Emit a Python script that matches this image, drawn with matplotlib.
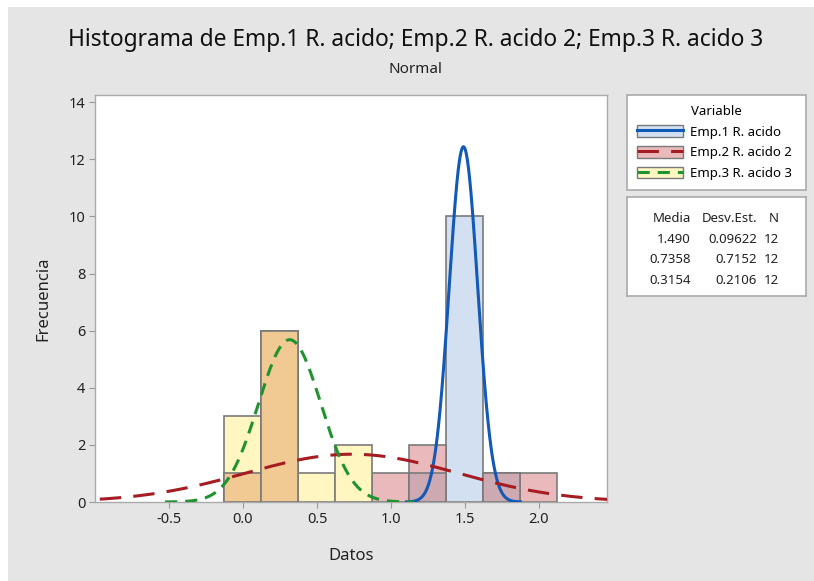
import numpy as np
import matplotlib
matplotlib.use('Agg')
import matplotlib.pyplot as plt
from matplotlib.patches import Patch, Rectangle
from matplotlib.lines import Line2D

plt.rcParams['font.family'] = ['Noto Sans', 'DejaVu Sans']

# histogram bins (centres, width 0.25) and counts per variable
BIN_CENTERS = [0.0, 0.25, 0.5, 0.75, 1.0, 1.25, 1.5, 1.75, 2.0]
BIN_WIDTH = 0.25
EMP1 = [0, 0, 0, 0, 0, 1, 10, 1, 0]
EMP2 = [1, 6, 0, 0, 1, 2, 0, 1, 1]
EMP3 = [3, 6, 1, 2, 0, 0, 0, 0, 0]

NAMES = ['Emp.1 R. acido', 'Emp.2 R. acido 2', 'Emp.3 R. acido 3']
MEANS = [1.490, 0.7358, 0.3154]
STDS = [0.09622, 0.7152, 0.2106]
NS = [12, 12, 12]
MEAN_TXT = ['1.490', '0.7358', '0.3154']
STD_TXT = ['0.09622', '0.7152', '0.2106']

FILL = ['#d2e0f1', '#e9b9bc', '#fff6c1']
LINE = ['#1259b8', '#a51d22', '#1f9330']
DASH = [None, (7, 4), (4, 2.6)]
OVERLAP_12 = '#cda9b1'
OVERLAP_23 = '#f1c992'
EDGE = '#7a7a7a'
BG = '#e5e5e5'

W, H = 814, 581
fig = plt.figure(figsize=(W / 100, H / 100), dpi=100, facecolor='white')
fig.patches.append(Rectangle((8 / W, 0), 1, 1 - 7 / H, transform=fig.transFigure,
                             facecolor=BG, edgecolor='none', zorder=-10))

ax = fig.add_axes([95 / W, 1 - 502 / H, (607 - 95) / W, (502 - 95) / H])
ax.set_facecolor('white')

centers = np.array(BIN_CENTERS)
series = [np.array(EMP1), np.array(EMP2), np.array(EMP3)]


def draw_bars(heights, color, z):
    m = heights > 0
    ax.bar(centers[m], heights[m], width=BIN_WIDTH, color=color,
           edgecolor=EDGE, linewidth=1.2, zorder=z)


for k, counts in enumerate(series):
    draw_bars(counts, FILL[k], 2)
draw_bars(np.minimum(series[0], series[1]), OVERLAP_12, 3)
draw_bars(np.minimum(series[1], series[2]), OVERLAP_23, 3)

# fitted normal curves scaled to counts, drawn over mean +/- 4 sd
for k in range(3):
    mu, sd, n = MEANS[k], STDS[k], NS[k]
    xs = np.linspace(mu - 4 * sd, mu + 4 * sd, 400)
    ys = n * BIN_WIDTH * np.exp(-0.5 * ((xs - mu) / sd) ** 2) / (sd * np.sqrt(2 * np.pi))
    ln, = ax.plot(xs, ys, color=LINE[k], linewidth=2.2, zorder=5)
    if DASH[k]:
        ln.set_dashes(DASH[k])

ax.set_xlim(-1.0, 2.46)
ax.set_ylim(0, 14.25)
ax.set_xticks([-0.5, 0.0, 0.5, 1.0, 1.5, 2.0])
ax.set_xticklabels(['-0.5', '0.0', '0.5', '1.0', '1.5', '2.0'])
ax.set_yticks(range(0, 15, 2))
ax.tick_params(direction='out', length=4, color='#999999', labelsize=10.5,
               labelcolor='#222222', pad=3)
for s in ax.spines.values():
    s.set_color('#aaaaaa')
    s.set_linewidth(1.0)
ax.set_xlabel('Datos', fontsize=12, color='#222222', labelpad=15)
ax.set_ylabel('Frecuencia', fontsize=12, color='#222222', labelpad=12)

fig.text(416 / W, 1 - 40 / H, 'Histograma de Emp.1 R. acido; Emp.2 R. acido 2; Emp.3 R. acido 3',
         ha='center', va='center', fontsize=16.4, color='#111111')
fig.text(416 / W, 1 - 70 / H, 'Normal', ha='center', va='center', fontsize=11, color='#222222')

# legend
handles = []
for k in range(3):
    ln = Line2D([], [], color=LINE[k], linewidth=2.2)
    if DASH[k]:
        ln.set_dashes(DASH[k])
    handles.append((Patch(facecolor=FILL[k], edgecolor=EDGE), ln))
leg = fig.legend(handles, NAMES, title='Variable', loc='upper left',
                 bbox_to_anchor=(627 / W, 1 - 95 / H, 179 / W, 0.0), mode='expand',
                 fontsize=9.5, title_fontsize=9.5, frameon=True, fancybox=False,
                 framealpha=1, handlelength=3.5, handleheight=1.0, labelspacing=0.55,
                 handletextpad=0.5, borderpad=0.75, borderaxespad=0)
leg.get_frame().set_edgecolor('#aaaaaa')
leg.get_frame().set_linewidth(1.2)

# statistics table
sax = fig.add_axes([627 / W, 1 - 296 / H, 179 / W, (296 - 197) / H])
sax.set_xticks([])
sax.set_yticks([])
for s in sax.spines.values():
    s.set_color('#aaaaaa')
    s.set_linewidth(1.2)
sax.set_xlim(627, 806)
sax.set_ylim(296, 197)
tk = dict(fontsize=9.5, color='#222222', va='center', ha='right')
sax.text(691, 218, 'Media', **tk)
sax.text(757, 218, 'Desv.Est.', **tk)
sax.text(779, 218, 'N', **tk)
for i in range(3):
    y = 239 + i * 20.5
    sax.text(691, y, MEAN_TXT[i], **tk)
    sax.text(757, y, STD_TXT[i], **tk)
    sax.text(779, y, str(NS[i]), **tk)

fig.savefig('out.png', dpi=100, facecolor=fig.get_facecolor())
